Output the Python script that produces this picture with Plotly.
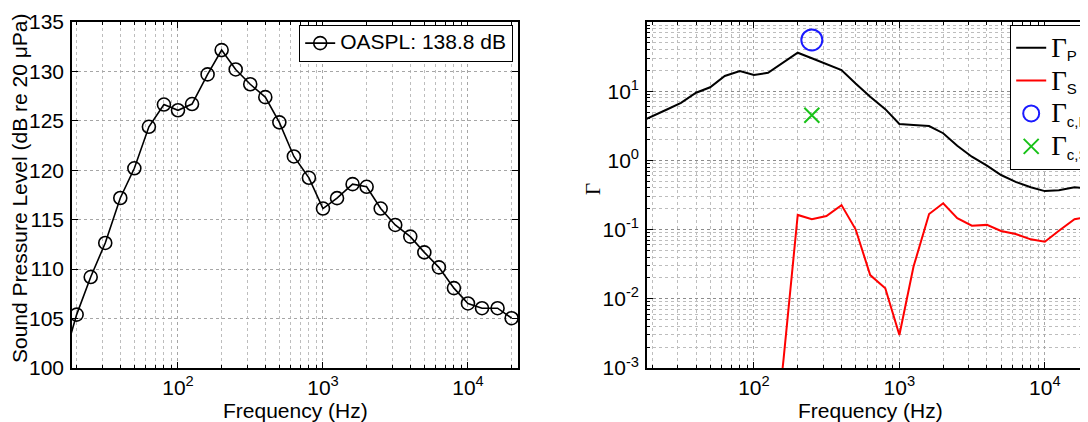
import plotly.graph_objects as go

# ---- data (1/3-octave band centre frequencies, Hz) ----
freq = [16, 20, 25, 31.5, 40, 50, 63, 80, 100, 125, 160, 200, 250, 315, 400, 500,
        630, 800, 1000, 1250, 1600, 2000, 2500, 3150, 4000, 5000, 6300, 8000,
        10000, 12500, 16000, 20000]

spl = [100.5, 105.4, 109.2, 112.65, 117.2, 120.2, 124.4, 126.65, 126.07, 126.7,
       129.7, 132.16, 130.2, 128.7, 127.4, 124.85, 121.4, 119.24, 116.13, 117.18,
       118.6, 118.33, 116.13, 114.47, 113.29, 111.7, 110.18, 108.08, 106.53,
       106.05, 106.05, 105.04]

gamma_p = [3.5, 4.4, 5.4, 6.8, 9.5, 11.4, 16.6, 19.6, 17.1, 18.5, 26.1, 36.0, 29.9,
           24.7, 20.2, 12.9, 8.3, 5.5, 3.36, 3.25, 3.14, 2.47, 1.63, 1.13, 0.84,
           0.615, 0.49, 0.41, 0.36, 0.37, 0.41, 0.395]

gamma_s = [None, None, None, None, None, None, None, None, None, 1e-5, 1.38e-3,
           0.163, 0.141, 0.157, 0.226, 0.101, 0.022, 0.0142, 0.0030, 0.029, 0.168,
           0.24, 0.146, 0.114, 0.117, 0.0955, 0.0864, 0.0723, 0.0668, 0.0964,
           0.141, 0.154]

fc = [250]
gamma_cp = [55]
gamma_cs = [4.48]

x_major = [100, 1000, 10000]
x_major_text = ["10<sup>2</sup>", "10<sup>3</sup>", "10<sup>4</sup>"]
x_minor = [m * 10 ** e for e in range(1, 5) for m in range(2, 10)]
y2_major = [1e-3, 1e-2, 1e-1, 1e0, 1e1, 1e2]
y2_major_text = ["10<sup>-3</sup>", "10<sup>-2</sup>", "10<sup>-1</sup>",
                 "10<sup>0</sup>", "10<sup>1</sup>", "10<sup>2</sup>"]
y2_minor = [m * 10.0 ** e for e in range(-3, 2) for m in range(2, 10)]

W, H = 1088, 422
OFF = 8  # page body margin
SANS = "Liberation Sans, Arial, Helvetica, sans-serif"
SERIF = "Liberation Serif, Times New Roman, serif"
GRID = "#a6a6a6"
GRIDMINOR = "#bdbdbd"


def px(x):
    return (x - OFF) / W


def py(y):
    return 1 - (y - OFF) / H


fig = go.Figure()

fig.add_trace(go.Scatter(
    x=freq, y=spl, mode="lines+markers", showlegend=True,
    name='<span style="font-size:21px">OASPL: 138.8 dB</span>',
    line=dict(color="black", width=1.6),
    marker=dict(symbol="circle-open", size=13, color="black", line=dict(width=1.6)),
    xaxis="x", yaxis="y", legend="legend"))

gam = '<span style="font-size:27px">Γ</span>'
sub = '<sub><span style="font-family:Liberation Sans;font-size:15px">{}</span></sub>'
fig.add_trace(go.Scatter(
    x=freq, y=gamma_p, mode="lines", name=gam + sub.format("P"), showlegend=True,
    line=dict(color="black", width=2), xaxis="x2", yaxis="y2", legend="legend2"))
fig.add_trace(go.Scatter(
    x=freq, y=gamma_s, mode="lines", name=gam + sub.format("S"), showlegend=True,
    line=dict(color="#ff0000", width=2), connectgaps=False,
    xaxis="x2", yaxis="y2", legend="legend2"))
fig.add_trace(go.Scatter(
    x=fc, y=gamma_cp, mode="markers", name=gam + sub.format("c,P"), showlegend=True,
    marker=dict(symbol="circle-open", size=21, color="#1a1aff", line=dict(width=2)),
    xaxis="x2", yaxis="y2", legend="legend2"))
fig.add_trace(go.Scatter(
    x=fc, y=gamma_cs, mode="markers", name=gam + sub.format("c,S"), showlegend=True,
    marker=dict(symbol="x-thin-open", size=15, color="#19c219",
                line=dict(width=2, color="#19c219")),
    xaxis="x2", yaxis="y2", legend="legend2"))

tickfont = dict(family=SANS, size=21, color="black")

common_x = dict(
    type="log", tickvals=x_major, ticktext=x_major_text, ticks="inside",
    ticklen=6, tickwidth=1, tickcolor="black", showline=True, linecolor="black",
    linewidth=1.6, showgrid=True, gridcolor=GRID, griddash="dot", gridwidth=1,
    zeroline=False, tickfont=tickfont, automargin=False, mirror="ticks",
    minor=dict(tickvals=x_minor, ticks="inside", ticklen=3, tickcolor="black",
               showgrid=True, gridcolor=GRIDMINOR, griddash="dot", gridwidth=1),
)

fig.update_layout(
    width=W, height=H, margin=dict(l=0, r=0, t=0, b=0),
    paper_bgcolor="white", plot_bgcolor="white", showlegend=True,
    xaxis=dict(domain=[px(72), px(518)], range=[1.269, 4.345], anchor="y",
               **common_x),
    yaxis=dict(domain=[py(368), py(22)], range=[100, 135], dtick=5, anchor="x",
               ticks="inside", ticklen=6, tickcolor="black", showline=True,
               linecolor="black", linewidth=1.6, mirror="ticks", showgrid=True,
               gridcolor=GRID, griddash="dot", zeroline=False, tickfont=tickfont,
               automargin=False, ticklabelstandoff=2),
    xaxis2=dict(domain=[px(647), px(1095)], range=[1.2646, 4.345], anchor="y2",
                **common_x),
    yaxis2=dict(domain=[py(368), py(22)], type="log", range=[-3, 2], anchor="x2",
                tickvals=y2_major, ticktext=y2_major_text, ticks="inside",
                ticklen=6, tickcolor="black", showline=True, linecolor="black",
                linewidth=1.6, mirror="ticks", showgrid=True, gridcolor="#8c8c8c",
                griddash="dot", zeroline=False, tickfont=tickfont,
                automargin=False, ticklabelstandoff=2,
                minor=dict(tickvals=y2_minor, ticks="inside", ticklen=3,
                           tickcolor="black", showgrid=True, gridcolor=GRIDMINOR,
                           griddash="dot")),
    legend=dict(visible=True, x=px(513), xanchor="right", y=py(25), yanchor="top",
                bgcolor="white", bordercolor="black", borderwidth=1.2,
                font=dict(family=SANS, size=16, color="black"),
                itemwidth=30, tracegroupgap=0),
    legend2=dict(visible=True, x=px(1010), xanchor="left", y=py(25), yanchor="top",
                 bgcolor="white", bordercolor="black", borderwidth=1.2,
                 font=dict(family=SERIF, size=23, color="black"),
                 itemwidth=30, tracegroupgap=0),
    annotations=[
        dict(text="Frequency (Hz)", x=px(295), y=py(410), xref="paper", yref="paper",
             xanchor="center", yanchor="middle", showarrow=False,
             font=dict(family=SANS, size=21, color="black")),
        dict(text="Frequency (Hz)", x=px(870), y=py(410), xref="paper", yref="paper",
             xanchor="center", yanchor="middle", showarrow=False,
             font=dict(family=SANS, size=21, color="black")),
        dict(text="Sound Pressure Level (dB re 20 μPa)", x=px(19), y=py(189),
             xref="paper", yref="paper", xanchor="center", yanchor="middle",
             textangle=-90, showarrow=False,
             font=dict(family=SANS, size=21, color="black")),
        dict(text="Γ", x=px(593), y=py(189), xref="paper", yref="paper",
             xanchor="center", yanchor="middle", textangle=-90, showarrow=False,
             font=dict(family=SERIF, size=21, color="black")),
    ],
)

fig.write_html("out.html")
